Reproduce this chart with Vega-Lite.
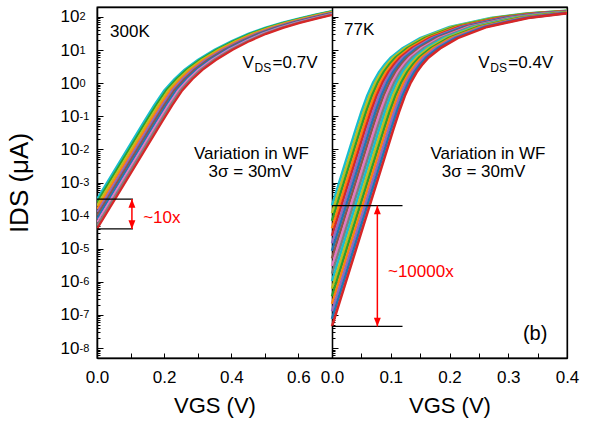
{
"$schema": "https://vega.github.io/schema/vega-lite/v6.json",
"width": 470, "height": 351,
"autosize": {"type": "none"},
"padding": {"left": 97, "top": 7, "right": 27, "bottom": 67},
"background": "white",
"config": {
 "view": {"stroke": "black", "strokeWidth": 1.3},
 "font": "Liberation Sans",
 "axis": {"grid": false, "labelFont": "Liberation Sans", "titleFont": "Liberation Sans", "labelFontSize": 17, "titleFontSize": 22, "titleFontWeight": "normal", "labelColor": "black", "titleColor": "black", "domainColor": "black", "domainWidth": 1.3, "tickColor": "black", "tickWidth": 1, "labelFlush": false},
 "text": {"font": "Liberation Sans", "fontSize": 17, "color": "black"}
},
"datasets": {
"L": [
{"k":0,"v":0,"i":3.16e-4},{"k":0,"v":0.14,"i":0.0692},{"k":0,"v":0.17,"i":0.214},{"k":0,"v":0.2,"i":0.603},{"k":0,"v":0.23,"i":1.318},{"k":0,"v":0.26,"i":2.512},{"k":0,"v":0.3,"i":5.012},{"k":0,"v":0.35,"i":10.23},{"k":0,"v":0.4,"i":18.62},{"k":0,"v":0.45,"i":30.9},{"k":0,"v":0.5,"i":46.77},{"k":0,"v":0.55,"i":66.07},{"k":0,"v":0.6,"i":89.13},{"k":0,"v":0.65,"i":117.5},{"k":0,"v":0.7,"i":151.4},
{"k":1,"v":0,"i":2.51e-4},{"k":1,"v":0.146,"i":0.0692},{"k":1,"v":0.176,"i":0.214},{"k":1,"v":0.206,"i":0.603},{"k":1,"v":0.236,"i":1.318},{"k":1,"v":0.266,"i":2.512},{"k":1,"v":0.306,"i":5.012},{"k":1,"v":0.356,"i":10.23},{"k":1,"v":0.406,"i":18.62},{"k":1,"v":0.456,"i":30.9},{"k":1,"v":0.506,"i":46.77},{"k":1,"v":0.556,"i":66.07},{"k":1,"v":0.606,"i":89.13},{"k":1,"v":0.656,"i":117.5},{"k":1,"v":0.7,"i":146.9},
{"k":2,"v":0,"i":2.0e-4},{"k":2,"v":0.152,"i":0.0692},{"k":2,"v":0.182,"i":0.214},{"k":2,"v":0.212,"i":0.603},{"k":2,"v":0.242,"i":1.318},{"k":2,"v":0.272,"i":2.512},{"k":2,"v":0.312,"i":5.012},{"k":2,"v":0.362,"i":10.23},{"k":2,"v":0.412,"i":18.62},{"k":2,"v":0.462,"i":30.9},{"k":2,"v":0.512,"i":46.77},{"k":2,"v":0.562,"i":66.07},{"k":2,"v":0.612,"i":89.13},{"k":2,"v":0.662,"i":117.5},{"k":2,"v":0.7,"i":142.5},
{"k":3,"v":0,"i":1.58e-4},{"k":3,"v":0.158,"i":0.0692},{"k":3,"v":0.188,"i":0.214},{"k":3,"v":0.218,"i":0.603},{"k":3,"v":0.248,"i":1.318},{"k":3,"v":0.278,"i":2.512},{"k":3,"v":0.318,"i":5.012},{"k":3,"v":0.368,"i":10.23},{"k":3,"v":0.418,"i":18.62},{"k":3,"v":0.468,"i":30.9},{"k":3,"v":0.518,"i":46.77},{"k":3,"v":0.568,"i":66.07},{"k":3,"v":0.618,"i":89.13},{"k":3,"v":0.668,"i":117.5},{"k":3,"v":0.7,"i":138.2},
{"k":4,"v":0,"i":1.26e-4},{"k":4,"v":0.164,"i":0.0692},{"k":4,"v":0.194,"i":0.214},{"k":4,"v":0.224,"i":0.603},{"k":4,"v":0.254,"i":1.318},{"k":4,"v":0.284,"i":2.512},{"k":4,"v":0.324,"i":5.012},{"k":4,"v":0.374,"i":10.23},{"k":4,"v":0.424,"i":18.62},{"k":4,"v":0.474,"i":30.9},{"k":4,"v":0.524,"i":46.77},{"k":4,"v":0.574,"i":66.07},{"k":4,"v":0.624,"i":89.13},{"k":4,"v":0.674,"i":117.5},{"k":4,"v":0.7,"i":134.1},
{"k":5,"v":0,"i":1.0e-4},{"k":5,"v":0.17,"i":0.0692},{"k":5,"v":0.2,"i":0.214},{"k":5,"v":0.23,"i":0.603},{"k":5,"v":0.26,"i":1.318},{"k":5,"v":0.29,"i":2.512},{"k":5,"v":0.33,"i":5.012},{"k":5,"v":0.38,"i":10.23},{"k":5,"v":0.43,"i":18.62},{"k":5,"v":0.48,"i":30.9},{"k":5,"v":0.53,"i":46.77},{"k":5,"v":0.58,"i":66.07},{"k":5,"v":0.63,"i":89.13},{"k":5,"v":0.68,"i":117.5},{"k":5,"v":0.7,"i":130.0},
{"k":6,"v":0,"i":7.92e-5},{"k":6,"v":0.176,"i":0.0692},{"k":6,"v":0.206,"i":0.214},{"k":6,"v":0.236,"i":0.603},{"k":6,"v":0.266,"i":1.318},{"k":6,"v":0.296,"i":2.512},{"k":6,"v":0.336,"i":5.012},{"k":6,"v":0.386,"i":10.23},{"k":6,"v":0.436,"i":18.62},{"k":6,"v":0.486,"i":30.9},{"k":6,"v":0.536,"i":46.77},{"k":6,"v":0.586,"i":66.07},{"k":6,"v":0.636,"i":89.13},{"k":6,"v":0.686,"i":117.5},{"k":6,"v":0.7,"i":126.2},
{"k":7,"v":0,"i":6.29e-5},{"k":7,"v":0.182,"i":0.0692},{"k":7,"v":0.212,"i":0.214},{"k":7,"v":0.242,"i":0.603},{"k":7,"v":0.272,"i":1.318},{"k":7,"v":0.302,"i":2.512},{"k":7,"v":0.342,"i":5.012},{"k":7,"v":0.392,"i":10.23},{"k":7,"v":0.442,"i":18.62},{"k":7,"v":0.492,"i":30.9},{"k":7,"v":0.542,"i":46.77},{"k":7,"v":0.592,"i":66.07},{"k":7,"v":0.642,"i":89.13},{"k":7,"v":0.692,"i":117.5},{"k":7,"v":0.7,"i":122.4},
{"k":8,"v":0,"i":4.99e-5},{"k":8,"v":0.188,"i":0.0692},{"k":8,"v":0.218,"i":0.214},{"k":8,"v":0.248,"i":0.603},{"k":8,"v":0.278,"i":1.318},{"k":8,"v":0.308,"i":2.512},{"k":8,"v":0.348,"i":5.012},{"k":8,"v":0.398,"i":10.23},{"k":8,"v":0.448,"i":18.62},{"k":8,"v":0.498,"i":30.9},{"k":8,"v":0.548,"i":46.77},{"k":8,"v":0.598,"i":66.07},{"k":8,"v":0.648,"i":89.13},{"k":8,"v":0.698,"i":117.5},{"k":8,"v":0.7,"i":118.7},
{"k":9,"v":0,"i":3.96e-5},{"k":9,"v":0.194,"i":0.0692},{"k":9,"v":0.224,"i":0.214},{"k":9,"v":0.254,"i":0.603},{"k":9,"v":0.284,"i":1.318},{"k":9,"v":0.314,"i":2.512},{"k":9,"v":0.354,"i":5.012},{"k":9,"v":0.404,"i":10.23},{"k":9,"v":0.454,"i":18.62},{"k":9,"v":0.504,"i":30.9},{"k":9,"v":0.554,"i":46.77},{"k":9,"v":0.604,"i":66.07},{"k":9,"v":0.654,"i":89.13},{"k":9,"v":0.7,"i":114.8}
],
"R": [
{"k":0,"v":0,"i":2.0e-4},{"k":0,"v":0.04,"i":0.038},{"k":0,"v":0.05,"i":0.1349},{"k":0,"v":0.06,"i":0.4169},{"k":0,"v":0.07,"i":1.047},{"k":0,"v":0.08,"i":2.138},{"k":0,"v":0.09,"i":3.715},{"k":0,"v":0.1,"i":5.888},{"k":0,"v":0.12,"i":11.22},{"k":0,"v":0.15,"i":22.91},{"k":0,"v":0.2,"i":50.12},{"k":0,"v":0.27,"i":93.33},{"k":0,"v":0.33,"i":125.9},{"k":0,"v":0.4,"i":154.9},
{"k":1,"v":0,"i":1.18e-4},{"k":1,"v":0.044,"i":0.038},{"k":1,"v":0.054,"i":0.1349},{"k":1,"v":0.064,"i":0.4169},{"k":1,"v":0.074,"i":1.047},{"k":1,"v":0.084,"i":2.138},{"k":1,"v":0.094,"i":3.715},{"k":1,"v":0.104,"i":5.888},{"k":1,"v":0.124,"i":11.22},{"k":1,"v":0.154,"i":22.91},{"k":1,"v":0.204,"i":50.12},{"k":1,"v":0.274,"i":93.33},{"k":1,"v":0.334,"i":125.9},{"k":1,"v":0.404,"i":154.9},
{"k":2,"v":0,"i":6.98e-5},{"k":2,"v":0.048,"i":0.038},{"k":2,"v":0.058,"i":0.1349},{"k":2,"v":0.068,"i":0.4169},{"k":2,"v":0.078,"i":1.047},{"k":2,"v":0.088,"i":2.138},{"k":2,"v":0.098,"i":3.715},{"k":2,"v":0.108,"i":5.888},{"k":2,"v":0.128,"i":11.22},{"k":2,"v":0.158,"i":22.91},{"k":2,"v":0.208,"i":50.12},{"k":2,"v":0.278,"i":93.33},{"k":2,"v":0.338,"i":125.9},{"k":2,"v":0.408,"i":154.9},
{"k":3,"v":0,"i":4.13e-5},{"k":3,"v":0.052,"i":0.038},{"k":3,"v":0.062,"i":0.1349},{"k":3,"v":0.072,"i":0.4169},{"k":3,"v":0.082,"i":1.047},{"k":3,"v":0.092,"i":2.138},{"k":3,"v":0.102,"i":3.715},{"k":3,"v":0.112,"i":5.888},{"k":3,"v":0.132,"i":11.22},{"k":3,"v":0.162,"i":22.91},{"k":3,"v":0.212,"i":50.12},{"k":3,"v":0.282,"i":93.33},{"k":3,"v":0.342,"i":125.9},{"k":3,"v":0.412,"i":154.9},
{"k":4,"v":0,"i":2.44e-5},{"k":4,"v":0.056,"i":0.038},{"k":4,"v":0.066,"i":0.1349},{"k":4,"v":0.076,"i":0.4169},{"k":4,"v":0.086,"i":1.047},{"k":4,"v":0.096,"i":2.138},{"k":4,"v":0.106,"i":3.715},{"k":4,"v":0.116,"i":5.888},{"k":4,"v":0.136,"i":11.22},{"k":4,"v":0.166,"i":22.91},{"k":4,"v":0.216,"i":50.12},{"k":4,"v":0.286,"i":93.33},{"k":4,"v":0.346,"i":125.9},{"k":4,"v":0.416,"i":154.9},
{"k":5,"v":0,"i":1.45e-5},{"k":5,"v":0.06,"i":0.038},{"k":5,"v":0.07,"i":0.1349},{"k":5,"v":0.08,"i":0.4169},{"k":5,"v":0.09,"i":1.047},{"k":5,"v":0.1,"i":2.138},{"k":5,"v":0.11,"i":3.715},{"k":5,"v":0.12,"i":5.888},{"k":5,"v":0.14,"i":11.22},{"k":5,"v":0.17,"i":22.91},{"k":5,"v":0.22,"i":50.12},{"k":5,"v":0.29,"i":93.33},{"k":5,"v":0.35,"i":125.9},{"k":5,"v":0.42,"i":154.9},
{"k":6,"v":0,"i":8.55e-6},{"k":6,"v":0.064,"i":0.038},{"k":6,"v":0.074,"i":0.1349},{"k":6,"v":0.084,"i":0.4169},{"k":6,"v":0.094,"i":1.047},{"k":6,"v":0.104,"i":2.138},{"k":6,"v":0.114,"i":3.715},{"k":6,"v":0.124,"i":5.888},{"k":6,"v":0.144,"i":11.22},{"k":6,"v":0.174,"i":22.91},{"k":6,"v":0.224,"i":50.12},{"k":6,"v":0.294,"i":93.33},{"k":6,"v":0.354,"i":125.9},{"k":6,"v":0.424,"i":154.9},
{"k":7,"v":0,"i":5.06e-6},{"k":7,"v":0.068,"i":0.038},{"k":7,"v":0.078,"i":0.1349},{"k":7,"v":0.088,"i":0.4169},{"k":7,"v":0.098,"i":1.047},{"k":7,"v":0.108,"i":2.138},{"k":7,"v":0.118,"i":3.715},{"k":7,"v":0.128,"i":5.888},{"k":7,"v":0.148,"i":11.22},{"k":7,"v":0.178,"i":22.91},{"k":7,"v":0.228,"i":50.12},{"k":7,"v":0.298,"i":93.33},{"k":7,"v":0.358,"i":125.9},{"k":7,"v":0.428,"i":154.9},
{"k":8,"v":0,"i":2.99e-6},{"k":8,"v":0.072,"i":0.038},{"k":8,"v":0.082,"i":0.1349},{"k":8,"v":0.092,"i":0.4169},{"k":8,"v":0.102,"i":1.047},{"k":8,"v":0.112,"i":2.138},{"k":8,"v":0.122,"i":3.715},{"k":8,"v":0.132,"i":5.888},{"k":8,"v":0.152,"i":11.22},{"k":8,"v":0.182,"i":22.91},{"k":8,"v":0.232,"i":50.12},{"k":8,"v":0.302,"i":93.33},{"k":8,"v":0.362,"i":125.9},{"k":8,"v":0.432,"i":154.9},
{"k":9,"v":0,"i":1.77e-6},{"k":9,"v":0.076,"i":0.038},{"k":9,"v":0.086,"i":0.1349},{"k":9,"v":0.096,"i":0.4169},{"k":9,"v":0.106,"i":1.047},{"k":9,"v":0.116,"i":2.138},{"k":9,"v":0.126,"i":3.715},{"k":9,"v":0.136,"i":5.888},{"k":9,"v":0.156,"i":11.22},{"k":9,"v":0.186,"i":22.91},{"k":9,"v":0.236,"i":50.12},{"k":9,"v":0.306,"i":93.33},{"k":9,"v":0.366,"i":125.9},{"k":9,"v":0.436,"i":154.9},
{"k":10,"v":0,"i":1.05e-6},{"k":10,"v":0.08,"i":0.038},{"k":10,"v":0.09,"i":0.1349},{"k":10,"v":0.1,"i":0.4169},{"k":10,"v":0.11,"i":1.047},{"k":10,"v":0.12,"i":2.138},{"k":10,"v":0.13,"i":3.715},{"k":10,"v":0.14,"i":5.888},{"k":10,"v":0.16,"i":11.22},{"k":10,"v":0.19,"i":22.91},{"k":10,"v":0.24,"i":50.12},{"k":10,"v":0.31,"i":93.33},{"k":10,"v":0.37,"i":125.9},{"k":10,"v":0.44,"i":154.9},
{"k":11,"v":0,"i":6.19e-7},{"k":11,"v":0.084,"i":0.038},{"k":11,"v":0.094,"i":0.1349},{"k":11,"v":0.104,"i":0.4169},{"k":11,"v":0.114,"i":1.047},{"k":11,"v":0.124,"i":2.138},{"k":11,"v":0.134,"i":3.715},{"k":11,"v":0.144,"i":5.888},{"k":11,"v":0.164,"i":11.22},{"k":11,"v":0.194,"i":22.91},{"k":11,"v":0.244,"i":50.12},{"k":11,"v":0.314,"i":93.33},{"k":11,"v":0.374,"i":125.9},{"k":11,"v":0.444,"i":154.9},
{"k":12,"v":0,"i":3.66e-7},{"k":12,"v":0.088,"i":0.038},{"k":12,"v":0.098,"i":0.1349},{"k":12,"v":0.108,"i":0.4169},{"k":12,"v":0.118,"i":1.047},{"k":12,"v":0.128,"i":2.138},{"k":12,"v":0.138,"i":3.715},{"k":12,"v":0.148,"i":5.888},{"k":12,"v":0.168,"i":11.22},{"k":12,"v":0.198,"i":22.91},{"k":12,"v":0.248,"i":50.12},{"k":12,"v":0.318,"i":93.33},{"k":12,"v":0.378,"i":125.9},{"k":12,"v":0.448,"i":154.9},
{"k":13,"v":0,"i":2.17e-7},{"k":13,"v":0.092,"i":0.038},{"k":13,"v":0.102,"i":0.1349},{"k":13,"v":0.112,"i":0.4169},{"k":13,"v":0.122,"i":1.047},{"k":13,"v":0.132,"i":2.138},{"k":13,"v":0.142,"i":3.715},{"k":13,"v":0.152,"i":5.888},{"k":13,"v":0.172,"i":11.22},{"k":13,"v":0.202,"i":22.91},{"k":13,"v":0.252,"i":50.12},{"k":13,"v":0.322,"i":93.33},{"k":13,"v":0.382,"i":125.9},{"k":13,"v":0.452,"i":154.9},
{"k":14,"v":0,"i":1.28e-7},{"k":14,"v":0.096,"i":0.038},{"k":14,"v":0.106,"i":0.1349},{"k":14,"v":0.116,"i":0.4169},{"k":14,"v":0.126,"i":1.047},{"k":14,"v":0.136,"i":2.138},{"k":14,"v":0.146,"i":3.715},{"k":14,"v":0.156,"i":5.888},{"k":14,"v":0.176,"i":11.22},{"k":14,"v":0.206,"i":22.91},{"k":14,"v":0.256,"i":50.12},{"k":14,"v":0.326,"i":93.33},{"k":14,"v":0.386,"i":125.9},{"k":14,"v":0.456,"i":154.9},
{"k":15,"v":0,"i":7.59e-8},{"k":15,"v":0.1,"i":0.038},{"k":15,"v":0.11,"i":0.1349},{"k":15,"v":0.12,"i":0.4169},{"k":15,"v":0.13,"i":1.047},{"k":15,"v":0.14,"i":2.138},{"k":15,"v":0.15,"i":3.715},{"k":15,"v":0.16,"i":5.888},{"k":15,"v":0.18,"i":11.22},{"k":15,"v":0.21,"i":22.91},{"k":15,"v":0.26,"i":50.12},{"k":15,"v":0.33,"i":93.33},{"k":15,"v":0.39,"i":125.9},{"k":15,"v":0.46,"i":154.9},
{"k":16,"v":0,"i":4.49e-8},{"k":16,"v":0.104,"i":0.038},{"k":16,"v":0.114,"i":0.1349},{"k":16,"v":0.124,"i":0.4169},{"k":16,"v":0.134,"i":1.047},{"k":16,"v":0.144,"i":2.138},{"k":16,"v":0.154,"i":3.715},{"k":16,"v":0.164,"i":5.888},{"k":16,"v":0.184,"i":11.22},{"k":16,"v":0.214,"i":22.91},{"k":16,"v":0.264,"i":50.12},{"k":16,"v":0.334,"i":93.33},{"k":16,"v":0.394,"i":125.9},{"k":16,"v":0.464,"i":154.9}
]
},
"resolve": {"scale": {"x": "independent", "color": "independent"}, "axis": {"x": "independent", "y": "independent"}},
"layer": [
{
 "layer": [
  {
   "data": {"name": "L"},
   "mark": {"type": "line", "clip": true, "strokeWidth": 2.2},
   "encoding": {
    "x": {"field": "v", "type": "quantitative", "scale": {"domain": [0, 0.7], "range": [0, 235], "nice": false, "zero": false},
          "axis": {"orient": "bottom", "title": "VGS (V)", "values": [0, 0.1, 0.2, 0.3, 0.4, 0.5, 0.6], "labelExpr": "round(datum.value*10) % 2 == 0 ? format(datum.value, '.1f') : ''", "tickSize": -5, "labelPadding": 16, "titlePadding": 10}},
    "y": {"field": "i", "type": "quantitative", "scale": {"type": "log", "domain": [5e-9, 200], "nice": false},
          "axis": {"orient": "left", "title": "IDS (μA)", "titleFontSize": 26, "titlePadding": 28,
                   "values": [1e-8,1e-7,1e-6,1e-5,1e-4,0.001,0.01,0.1,1,10,100],
                   "labelExpr": "'10'", "labelDy": 3,
                   "tickSize": -6, "labelPadding": 24}},
    "color": {"field": "k", "type": "ordinal", "legend": null,
              "scale": {"range": ["#17becf","#2ca02c","#bcbd22","#ff7f0e","#9467bd","#8c564b","#1f77b4","#e377c2","#7f7f7f","#d62728"]}}
   }
  },
  {"data": {"values": [{}]}, "mark": {"type": "rule", "color": "black", "strokeWidth": 1.2},
   "encoding": {"x": {"datum": 0, "type": "quantitative"}, "x2": {"datum": 0.107}, "y": {"datum": 3.16e-4, "type": "quantitative"}}},
  {"data": {"values": [{}]}, "mark": {"type": "rule", "color": "black", "strokeWidth": 1.2},
   "encoding": {"x": {"datum": 0, "type": "quantitative"}, "x2": {"datum": 0.107}, "y": {"datum": 3.96e-5, "type": "quantitative"}}},
  {"data": {"values": [{}]}, "mark": {"type": "rule", "color": "#ff0000", "strokeWidth": 1.5},
   "encoding": {"x": {"datum": 0.104, "type": "quantitative"}, "y": {"datum": 3.16e-4, "type": "quantitative"}, "y2": {"datum": 3.96e-5}}},
  {"data": {"values": [{}]}, "mark": {"type": "point", "shape": "M0,0L-0.4,1L0.4,1Z", "filled": true, "color": "#ff0000", "size": 300, "opacity": 1},
   "encoding": {"x": {"datum": 0.104, "type": "quantitative"}, "y": {"datum": 3.16e-4, "type": "quantitative"}}},
  {"data": {"values": [{}]}, "mark": {"type": "point", "shape": "M0,0L-0.4,-1L0.4,-1Z", "filled": true, "color": "#ff0000", "size": 300, "opacity": 1},
   "encoding": {"x": {"datum": 0.104, "type": "quantitative"}, "y": {"datum": 3.96e-5, "type": "quantitative"}}},
  {"data": {"values": [{}]}, "mark": {"type": "text", "text": "~10x", "color": "#ff0000", "align": "left", "baseline": "alphabetic"},
   "encoding": {"x": {"datum": 0.1375, "type": "quantitative"}, "y": {"datum": 6.0e-5, "type": "quantitative"}}},
  {"data": {"values": [{}]}, "mark": {"type": "text", "text": "300K", "align": "left", "baseline": "alphabetic"},
   "encoding": {"x": {"datum": 0.039, "type": "quantitative"}, "y": {"datum": 24.4, "type": "quantitative"}}},
  {"data": {"values": [{}]}, "mark": {"type": "text", "text": "V", "align": "left", "baseline": "alphabetic"},
   "encoding": {"x": {"datum": 0.4336, "type": "quantitative"}, "y": {"datum": 2.82, "type": "quantitative"}}},
  {"data": {"values": [{}]}, "mark": {"type": "text", "text": "DS", "align": "left", "baseline": "alphabetic", "fontSize": 12, "dx": 12, "dy": 4},
   "encoding": {"x": {"datum": 0.4336, "type": "quantitative"}, "y": {"datum": 2.82, "type": "quantitative"}}},
  {"data": {"values": [{}]}, "mark": {"type": "text", "text": "=0.7V", "align": "left", "baseline": "alphabetic", "dx": 30},
   "encoding": {"x": {"datum": 0.4336, "type": "quantitative"}, "y": {"datum": 2.82, "type": "quantitative"}}},
  {"data": {"values": [{}]}, "mark": {"type": "text", "text": "Variation in WF", "align": "center", "baseline": "alphabetic"},
   "encoding": {"x": {"datum": 0.46, "type": "quantitative"}, "y": {"datum": 5.0e-3, "type": "quantitative"}}},
  {"data": {"values": [{}]}, "mark": {"type": "text", "text": "3σ = 30mV", "align": "center", "baseline": "alphabetic"},
   "encoding": {"x": {"datum": 0.457, "type": "quantitative"}, "y": {"datum": 1.42e-3, "type": "quantitative"}}}
 ]
},
{
 "data": {"values": [{}]},
 "mark": {"type": "point", "opacity": 0, "size": 0},
 "encoding": {
  "x": {"datum": 0, "type": "quantitative", "scale": {"domain": [0, 0.7], "range": [0, 235], "nice": false, "zero": false},
        "axis": {"orient": "top", "ticks": false, "labels": false, "title": null, "domain": true}},
  "y": {"datum": 1, "type": "quantitative", "scale": {"type": "log", "domain": [5e-9, 200], "nice": false},
        "axis": {"orient": "left", "title": null, "labels": false, "domain": true, "tickSize": -3,
                 "values": [6e-9,7e-9,8e-9,9e-9,2e-8,3e-8,4e-8,5e-8,6e-8,7e-8,8e-8,9e-8,2e-7,3e-7,4e-7,5e-7,6e-7,7e-7,8e-7,9e-7,2e-6,3e-6,4e-6,5e-6,6e-6,7e-6,8e-6,9e-6,2e-5,3e-5,4e-5,5e-5,6e-5,7e-5,8e-5,9e-5,2e-4,3e-4,4e-4,5e-4,6e-4,7e-4,8e-4,9e-4,0.002,0.003,0.004,0.005,0.006,0.007,0.008,0.009,0.02,0.03,0.04,0.05,0.06,0.07,0.08,0.09,0.2,0.3,0.4,0.5,0.6,0.7,0.8,0.9,2,3,4,5,6,7,8,9,20,30,40,50,60,70,80,90]}}
 }
},
{
 "data": {"values": [{}]},
 "mark": {"type": "point", "opacity": 0, "size": 0},
 "encoding": {
  "y": {"datum": 1, "type": "quantitative", "scale": {"type": "log", "domain": [5e-9, 200], "nice": false},
        "axis": {"orient": "left", "title": null, "ticks": false, "domain": false, "labelFontSize": 11, "labelAlign": "left", "labelPadding": 18, "labelDy": -4,
                 "values": [1e-8,1e-7,1e-6,1e-5,1e-4,0.001,0.01,0.1,1,10,100],
                 "labelExpr": "'' + round(log(datum.value)/log(10))"}}
 }
},
{
 "layer": [
  {
   "data": {"name": "R"},
   "mark": {"type": "line", "clip": true, "strokeWidth": 2.6},
   "encoding": {
    "x": {"field": "v", "type": "quantitative", "scale": {"domain": [0, 0.4], "range": [235, 470], "nice": false, "zero": false},
          "axis": {"orient": "bottom", "title": "VGS (V)", "values": [0, 0.05, 0.1, 0.15, 0.2, 0.25, 0.3, 0.35, 0.4], "labelExpr": "round(datum.value*20) % 2 == 0 ? format(datum.value, '.1f') : ''", "tickSize": -5, "labelPadding": 16, "titlePadding": 10}},
    "y": {"field": "i", "type": "quantitative", "scale": {"type": "log", "domain": [5e-9, 200], "nice": false},
          "axis": {"orient": "left", "offset": -235, "title": null, "labels": false, "tickSize": -6, "domain": true,
                   "values": [1e-8,1e-7,1e-6,1e-5,1e-4,0.001,0.01,0.1,1,10,100]}},
    "color": {"field": "k", "type": "ordinal", "legend": null,
              "scale": {"range": ["#17becf","#bcbd22","#2ca02c","#ff7f0e","#d62728","#9467bd","#1f77b4","#8c564b","#e377c2","#7f7f7f","#17becf","#bcbd22","#2ca02c","#ff7f0e","#9467bd","#1f77b4","#d62728"]}}
   }
  },
  {"data": {"values": [{}]}, "mark": {"type": "rule", "color": "black", "strokeWidth": 1.2},
   "encoding": {"x": {"datum": 0, "type": "quantitative"}, "x2": {"datum": 0.12}, "y": {"datum": 2.0e-4, "type": "quantitative"}}},
  {"data": {"values": [{}]}, "mark": {"type": "rule", "color": "black", "strokeWidth": 1.2},
   "encoding": {"x": {"datum": 0, "type": "quantitative"}, "x2": {"datum": 0.12}, "y": {"datum": 4.49e-8, "type": "quantitative"}}},
  {"data": {"values": [{}]}, "mark": {"type": "rule", "color": "#ff0000", "strokeWidth": 1.5},
   "encoding": {"x": {"datum": 0.0772, "type": "quantitative"}, "y": {"datum": 2.0e-4, "type": "quantitative"}, "y2": {"datum": 4.49e-8}}},
  {"data": {"values": [{}]}, "mark": {"type": "point", "shape": "M0,0L-0.4,1L0.4,1Z", "filled": true, "color": "#ff0000", "size": 300, "opacity": 1},
   "encoding": {"x": {"datum": 0.0772, "type": "quantitative"}, "y": {"datum": 2.0e-4, "type": "quantitative"}}},
  {"data": {"values": [{}]}, "mark": {"type": "point", "shape": "M0,0L-0.4,-1L0.4,-1Z", "filled": true, "color": "#ff0000", "size": 300, "opacity": 1},
   "encoding": {"x": {"datum": 0.0772, "type": "quantitative"}, "y": {"datum": 4.49e-8, "type": "quantitative"}}},
  {"data": {"values": [{}]}, "mark": {"type": "text", "text": "~10000x", "color": "#ff0000", "align": "left", "baseline": "alphabetic"},
   "encoding": {"x": {"datum": 0.0953, "type": "quantitative"}, "y": {"datum": 1.4e-6, "type": "quantitative"}}},
  {"data": {"values": [{}]}, "mark": {"type": "text", "text": "77K", "align": "left", "baseline": "alphabetic"},
   "encoding": {"x": {"datum": 0.0204, "type": "quantitative"}, "y": {"datum": 28.6, "type": "quantitative"}}},
  {"data": {"values": [{}]}, "mark": {"type": "text", "text": "V", "align": "left", "baseline": "alphabetic"},
   "encoding": {"x": {"datum": 0.249, "type": "quantitative"}, "y": {"datum": 2.82, "type": "quantitative"}}},
  {"data": {"values": [{}]}, "mark": {"type": "text", "text": "DS", "align": "left", "baseline": "alphabetic", "fontSize": 12, "dx": 12, "dy": 4},
   "encoding": {"x": {"datum": 0.249, "type": "quantitative"}, "y": {"datum": 2.82, "type": "quantitative"}}},
  {"data": {"values": [{}]}, "mark": {"type": "text", "text": "=0.4V", "align": "left", "baseline": "alphabetic", "dx": 30},
   "encoding": {"x": {"datum": 0.249, "type": "quantitative"}, "y": {"datum": 2.82, "type": "quantitative"}}},
  {"data": {"values": [{}]}, "mark": {"type": "text", "text": "Variation in WF", "align": "center", "baseline": "alphabetic"},
   "encoding": {"x": {"datum": 0.2655, "type": "quantitative"}, "y": {"datum": 5.0e-3, "type": "quantitative"}}},
  {"data": {"values": [{}]}, "mark": {"type": "text", "text": "3σ = 30mV", "align": "center", "baseline": "alphabetic"},
   "encoding": {"x": {"datum": 0.258, "type": "quantitative"}, "y": {"datum": 1.42e-3, "type": "quantitative"}}},
  {"data": {"values": [{}]}, "mark": {"type": "text", "text": "(b)", "align": "left", "baseline": "alphabetic", "fontSize": 20},
   "encoding": {"x": {"datum": 0.325, "type": "quantitative"}, "y": {"datum": 1.74e-8, "type": "quantitative"}}}
 ]
},
{
 "data": {"values": [{}]},
 "mark": {"type": "point", "opacity": 0, "size": 0},
 "encoding": {
  "x": {"datum": 0, "type": "quantitative", "scale": {"domain": [0, 0.4], "range": [235, 470], "nice": false, "zero": false},
        "axis": {"orient": "top", "ticks": false, "labels": false, "title": null, "domain": true}},
  "y": {"datum": 1, "type": "quantitative", "scale": {"type": "log", "domain": [5e-9, 200], "nice": false},
        "axis": {"orient": "left", "offset": -235, "title": null, "labels": false, "domain": true, "tickSize": -3,
                 "values": [6e-9,7e-9,8e-9,9e-9,2e-8,3e-8,4e-8,5e-8,6e-8,7e-8,8e-8,9e-8,2e-7,3e-7,4e-7,5e-7,6e-7,7e-7,8e-7,9e-7,2e-6,3e-6,4e-6,5e-6,6e-6,7e-6,8e-6,9e-6,2e-5,3e-5,4e-5,5e-5,6e-5,7e-5,8e-5,9e-5,2e-4,3e-4,4e-4,5e-4,6e-4,7e-4,8e-4,9e-4,0.002,0.003,0.004,0.005,0.006,0.007,0.008,0.009,0.02,0.03,0.04,0.05,0.06,0.07,0.08,0.09,0.2,0.3,0.4,0.5,0.6,0.7,0.8,0.9,2,3,4,5,6,7,8,9,20,30,40,50,60,70,80,90]}}
 }
},
{
 "data": {"values": [{}]},
 "mark": {"type": "point", "opacity": 0, "size": 0},
 "encoding": {
  "y": {"datum": 1, "type": "quantitative", "scale": {"type": "log", "domain": [5e-9, 200], "nice": false},
        "axis": {"orient": "right", "title": null, "labels": false, "ticks": false, "domain": true}}
 }
}
]
}
